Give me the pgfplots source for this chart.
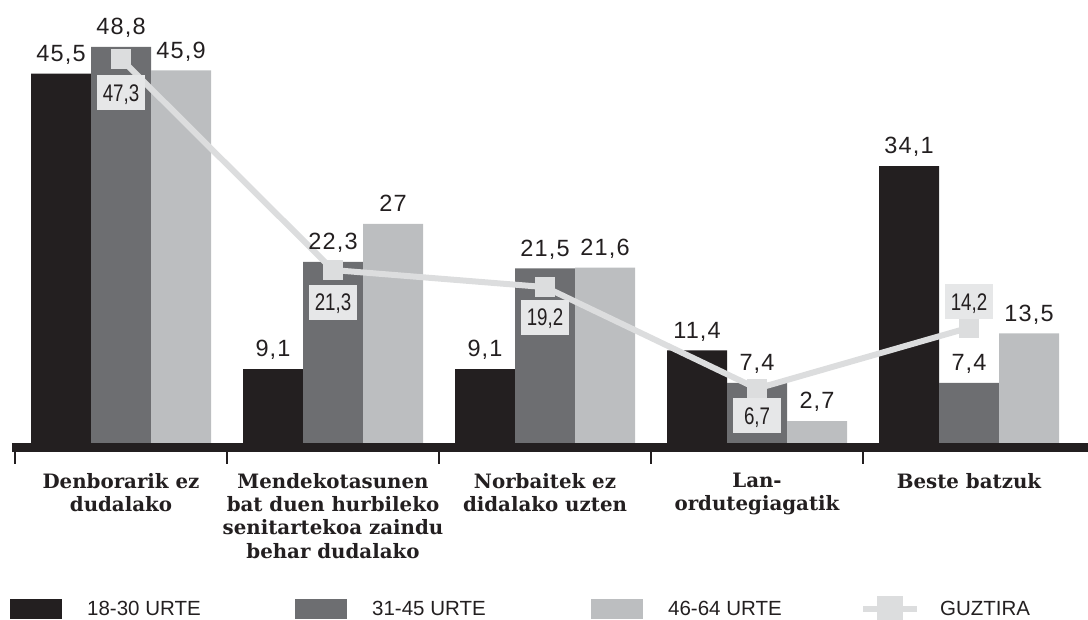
\documentclass[border=0pt]{standalone}
\usepackage{pgfplots}
\pgfplotsset{compat=1.18}
\usepackage{pgfplotstable}
\usepackage{fontspec}
\setmainfont{Liberation Sans}
\newfontfamily\valfont[LetterSpace=5]{Liberation Sans}
\newfontfamily\condfont[FakeStretch=0.78]{Liberation Sans}
\newfontfamily\catfont{DejaVu Serif}
\definecolor{cA}{HTML}{231F20}
\definecolor{cB}{HTML}{6D6E71}
\definecolor{cC}{HTML}{BCBEC0}
\definecolor{cL}{HTML}{DCDDDE}
\definecolor{cBox}{HTML}{E6E7E8}

\pgfplotstableread{
x a b c
0 45.5 48.8 45.9
1 9.1 22.3 27
2 9.1 21.5 21.6
3 11.4 7.4 2.7
4 34.1 7.4 13.5
}\groups
\pgfplotstableread{
x y dy
0 47.3 -34
1 21.3 -32
2 19.2 -30
3 6.7 -27
4 14.2 26
}\total

\begin{document}
\begin{tikzpicture}
\begin{axis}[
 name=ax,
 width=1076pt, height=443pt, scale only axis,
 xmin=-0.5142, xmax=4.5613, ymin=0, ymax=54.56,
 clip=false,
 axis y line=none,
 axis x line*=bottom,
 x axis line style={-, draw=cA},
 /pgf/number format/use comma,
 /pgf/number format/assume math mode=true,
 xtick={0,1,2,3,4},
 xticklabels={{Denborarik ez\\dudalako},{Mendekotasunen\\bat duen hurbileko\\senitartekoa zaindu\\behar dudalako},{Norbaitek ez\\didalako uzten},{Lan-\\ordutegiagatik},{Beste batzuk}},
 major tick length=0pt,
 xticklabel style={anchor=north, inner sep=0pt, yshift=-30pt, align=center, font=\catfont\bfseries\fontsize{19.8}{23.3}\selectfont, text=cA},
 extra x ticks={-0.5,0.5,1.5,2.5,3.5},
 extra x tick labels={},
 extra x tick style={major tick length=21pt, tick align=outside, tick style={line width=2pt, draw=cA}},
 legend columns=4,
 legend cell align=left,
 legend style={at={(axis description cs:0,0)}, anchor=west, xshift=-2pt, yshift=-166pt, draw=none, fill=none, inner sep=0pt,
   font=\fontsize{20.5}{20.5}\selectfont, text=cA, nodes={inner sep=0pt, anchor=west}},
 every node near coord/.append style={font=\valfont\fontsize{23.5}{23.5}\selectfont, text=cA, inner sep=0pt, text depth=0pt, yshift=12pt},
]
\addplot[ybar, bar width=60pt, bar shift=-60pt, fill=cA, draw=none, nodes near coords,
  every node near coord/.append style={xshift=-60pt},
  legend image code/.code={\fill[cA] (0pt,-10pt) rectangle (52pt,10pt);}] table[x=x,y=a]{\groups};
\addplot[ybar, bar width=60pt, bar shift=0pt, fill=cB, draw=none, nodes near coords,
  legend image code/.code={\fill[cB] (0pt,-10pt) rectangle (52pt,10pt);}] table[x=x,y=b]{\groups};
\addplot[ybar, bar width=60pt, bar shift=60pt, fill=cC, draw=none, nodes near coords,
  every node near coord/.append style={xshift=60pt},
  legend image code/.code={\fill[cC] (0pt,-10pt) rectangle (52pt,10pt);}] table[x=x,y=c]{\groups};
\addplot[cL, line width=6pt, mark=square*, mark size=7pt, mark options={fill=cL, draw=none},
  point meta=y,
  visualization depends on={\thisrow{dy}\as\dy},
  nodes near coords,
  every node near coord/.style={font=\condfont\fontsize{24}{24}\selectfont, text=cA, fill=cBox, inner sep=0pt,
     minimum width=48pt, minimum height=35pt, text height=17pt, text depth=0pt, anchor=center, yshift=\dy},
  legend image code/.code={\draw[cL, line width=6pt] (0pt,0pt) -- (54pt,0pt); \fill[cL] (17pt,-10pt) rectangle (37pt,10pt);}
  ] table[x=x,y=y]{\total};
\legend{\makebox[233pt][l]{\hspace{25pt}18-30 URTE},\makebox[244pt][l]{\hspace{25pt}31-45 URTE},\makebox[217pt][l]{\hspace{25pt}46-64 URTE},\hspace{20pt}GUZTIRA}
\fill[cA] (rel axis cs:0,0) rectangle ([yshift=-9.5pt]rel axis cs:1,0);
\coordinate (O) at (rel axis cs:0,0);
\coordinate (TR) at (rel axis cs:1,1);
\end{axis}
\pgfresetboundingbox
\useasboundingbox ([shift={(-12pt,-177pt)}]O) rectangle (TR);
\end{tikzpicture}
\end{document}
